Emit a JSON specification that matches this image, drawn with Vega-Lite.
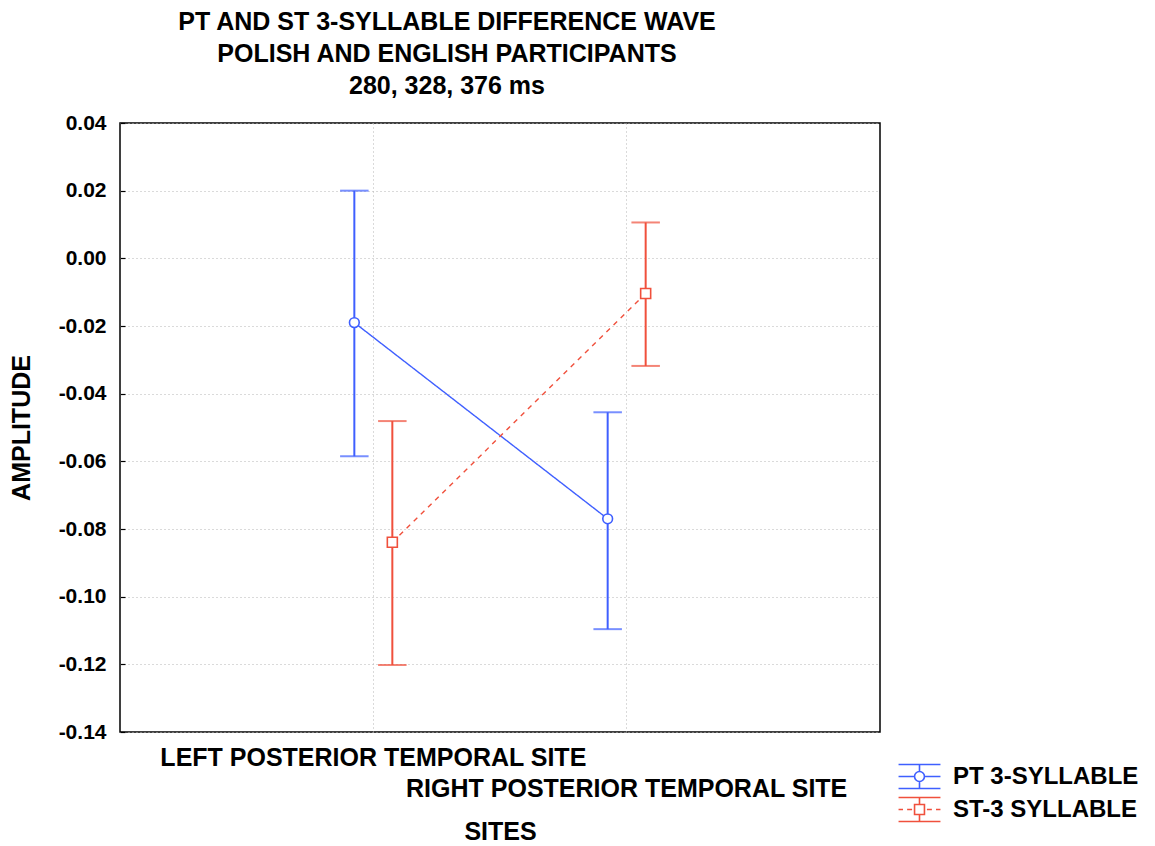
{
  "$schema": "https://vega.github.io/schema/vega-lite/v6.json",
  "width": 760,
  "height": 609,
  "autosize": "none",
  "padding": {"left": 120, "top": 123, "right": 275, "bottom": 114},
  "background": "white",
  "title": {
    "text": ["PT AND ST 3-SYLLABLE DIFFERENCE WAVE", "POLISH AND ENGLISH PARTICIPANTS", "280, 328, 376 ms"],
    "font": "Liberation Sans",
    "fontSize": 25,
    "fontWeight": "bold",
    "lineHeight": 32,
    "color": "black",
    "anchor": "middle",
    "frame": "group",
    "dx": -53,
    "offset": 13
  },
  "config": {
    "view": {"stroke": "black", "strokeWidth": 1.5},
    "axis": {
      "labelFont": "Liberation Sans",
      "labelFontWeight": "bold",
      "labelColor": "black",
      "titleFont": "Liberation Sans",
      "titleFontWeight": "bold",
      "titleColor": "black",
      "ticks": false,
      "domain": false,
      "grid": true,
      "gridColor": "#b4b4b4",
      "gridDash": [1, 3],
      "gridWidth": 1
    }
  },
  "data": {
    "values": [
      {"site": "LEFT POSTERIOR TEMPORAL SITE", "series": "PT 3-SYLLABLE", "mean": -0.019, "lo": -0.0585, "hi": 0.020},
      {"site": "RIGHT POSTERIOR TEMPORAL SITE", "series": "PT 3-SYLLABLE", "mean": -0.077, "lo": -0.1096, "hi": -0.0455},
      {"site": "LEFT POSTERIOR TEMPORAL SITE", "series": "ST-3 SYLLABLE", "mean": -0.0839, "lo": -0.1202, "hi": -0.0481},
      {"site": "RIGHT POSTERIOR TEMPORAL SITE", "series": "ST-3 SYLLABLE", "mean": -0.0104, "lo": -0.0318, "hi": 0.0106}
    ]
  },
  "encoding": {
    "x": {
      "field": "site",
      "type": "nominal",
      "sort": ["LEFT POSTERIOR TEMPORAL SITE", "RIGHT POSTERIOR TEMPORAL SITE"],
      "scale": {"type": "band", "paddingInner": 0.5, "paddingOuter": 0.75},
      "axis": {
        "title": "SITES",
        "titleFontSize": 25,
        "labelFontSize": 25,
        "labelAngle": 0,
        "labelPadding": 13,
        "labelLineHeight": 31,
        "labelBaseline": "top",
        "titlePadding": 18,
        "bandPosition": 0.5,
        "labelLimit": 0,
        "labelExpr": "datum.value === 'RIGHT POSTERIOR TEMPORAL SITE' ? ['', datum.label] : datum.label"
      }
    },
    "xOffset": {
      "field": "series",
      "type": "nominal",
      "sort": ["PT 3-SYLLABLE", "ST-3 SYLLABLE"],
      "scale": {"paddingInner": 0, "paddingOuter": 0.667}
    },
    "color": {
      "field": "series",
      "type": "nominal",
      "scale": {"domain": ["PT 3-SYLLABLE", "ST-3 SYLLABLE"], "range": ["#3F5FFF", "#F0503C"]},
      "legend": {
        "title": null,
        "orient": "none",
        "legendX": 782,
        "legendY": 636,
        "padding": 0,
        "symbolSize": 1089,
        "symbolStrokeWidth": 1.6,
        "symbolFillColor": "white",
        "symbolOpacity": 1,
        "labelFont": "Liberation Sans",
        "labelFontWeight": "bold",
        "labelFontSize": 24,
        "labelColor": "black",
        "labelOffset": 16,
        "labelLimit": 0,
        "rowPadding": -2
      }
    }
  },
  "layer": [
    {
      "mark": {"type": "line", "strokeWidth": 1.4},
      "encoding": {
        "y": {
          "field": "mean",
          "type": "quantitative",
          "scale": {"domain": [-0.14, 0.04], "nice": false, "zero": false},
          "axis": {
            "title": "AMPLITUDE",
            "titleFontSize": 25,
            "labelFontSize": 21,
            "values": [-0.14, -0.12, -0.1, -0.08, -0.06, -0.04, -0.02, 0, 0.02, 0.04],
            "format": ".2f",
            "labelExpr": "replace(datum.label, '−', '-')",
            "ticks": true,
            "tickSize": -5,
            "tickColor": "black",
            "tickWidth": 1.2,
            "labelPadding": 19,
            "titlePadding": 24
          }
        },
        "strokeDash": {
          "field": "series",
          "type": "nominal",
          "scale": {"range": [[1, 0], [5, 5]]},
          "legend": null
        }
      }
    },
    {
      "mark": {"type": "rule", "strokeWidth": 2},
      "encoding": {
        "y": {"field": "lo", "type": "quantitative"},
        "y2": {"field": "hi"}
      }
    },
    {
      "mark": {"type": "tick", "orient": "horizontal", "size": 27, "thickness": 0.5, "filled": false, "strokeWidth": 1.5},
      "encoding": {"y": {"field": "lo", "type": "quantitative"}}
    },
    {
      "mark": {"type": "tick", "orient": "horizontal", "size": 27, "thickness": 0.5, "filled": false, "strokeWidth": 1.5},
      "encoding": {"y": {"field": "hi", "type": "quantitative"}}
    },
    {
      "transform": [{"filter": "datum.series === 'PT 3-SYLLABLE'"}],
      "mark": {"type": "point", "shape": "circle", "filled": false, "fill": "white", "fillOpacity": 1, "opacity": 1, "strokeWidth": 1.6, "size": 95},
      "encoding": {"y": {"field": "mean", "type": "quantitative"}}
    },
    {
      "transform": [{"filter": "datum.series === 'ST-3 SYLLABLE'"}],
      "mark": {"type": "point", "shape": "square", "filled": false, "fill": "white", "fillOpacity": 1, "opacity": 1, "strokeWidth": 1.6, "size": 100},
      "encoding": {"y": {"field": "mean", "type": "quantitative"}}
    },
    {
      "mark": {"type": "point", "filled": false, "opacity": 0, "size": 10},
      "encoding": {
        "y": {"field": "mean", "type": "quantitative"},
        "shape": {
          "field": "series",
          "type": "nominal",
          "scale": {
            "domain": ["PT 3-SYLLABLE", "ST-3 SYLLABLE"],
            "range": [
              "M-1.27,-0.73H1.27M-1.27,0H-0.3M0.3,0H1.27M-1.27,0.73H1.27M0,-0.73V-0.3M0,0.3V0.73M-0.3,0A0.3,0.3,0,1,0,0.3,0A0.3,0.3,0,1,0,-0.3,0Z",
              "M-1.27,-0.73H1.27M-1.27,0.73H1.27M0,-0.73V-0.3M0,0.3V0.73M-0.3,-0.3H0.3V0.3H-0.3ZM-1.27,0H-1.0M-0.75,0H-0.45M0.45,0H0.75M1.0,0H1.27"
            ]
          },
          "legend": {"title": null}
        }
      }
    }
  ]
}
